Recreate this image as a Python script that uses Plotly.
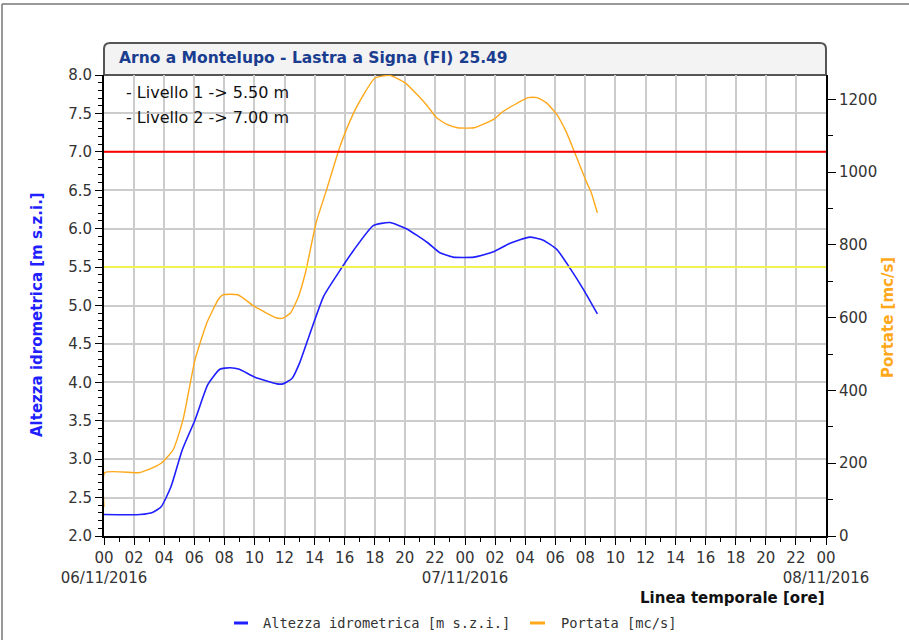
import plotly.graph_objects as go

# ---- data ----
level_hours = [0, 2.4, 3.26, 3.8, 4.45, 5.2, 6.05, 6.9, 7.7, 8.4, 9.0, 10.0, 11.5, 11.9,
               12.5, 13.0, 13.7, 14.6, 15.7, 16.6, 17.9, 19.0, 20.1, 21.5, 22.3, 23.2,
               24.6, 25.9, 27.0, 28.3, 29.2, 30.1, 31.0, 31.9, 32.8]
level_values = [2.28, 2.28, 2.31, 2.38, 2.64, 3.12, 3.51, 3.97, 4.17, 4.19, 4.17, 4.07, 3.98, 3.98,
                4.05, 4.25, 4.64, 5.12, 5.46, 5.72, 6.04, 6.08, 6.00, 5.82, 5.69, 5.63,
                5.63, 5.70, 5.81, 5.89, 5.85, 5.73, 5.48, 5.20, 4.89]

flow_hours = [0, 0.05, 2.3, 2.9, 3.8, 4.6, 5.25, 6.05, 6.83, 7.6, 7.9, 8.9, 10.0, 11.5, 11.9,
              12.4, 12.9, 13.4, 14.1, 14.8, 15.7, 16.6, 17.2, 18.0, 19.0, 20.0, 20.8, 21.5, 22.1,
              22.8, 23.5, 24.6, 25.9, 26.5, 27.4, 28.2, 28.8, 29.4, 30.1, 30.76, 31.3,
              32.1, 32.4, 32.8]
flow_values = [80, 174, 174, 182, 200, 237, 319, 484, 585, 650, 663, 663, 631, 599, 599,
               613, 655, 725, 861, 952, 1072, 1163, 1209, 1258, 1266, 1246, 1214, 1182, 1150,
               1131, 1122, 1122, 1145, 1166, 1188, 1205, 1205, 1191, 1159, 1108, 1053,
               971, 943, 888]

x_tick_vals = list(range(0, 49, 2))
x_tick_text = ["00<br>06/11/2016", "02", "04", "06", "08", "10", "12", "14", "16", "18", "20", "22",
               "00<br>07/11/2016", "02", "04", "06", "08", "10", "12", "14", "16", "18", "20", "22",
               "00<br>08/11/2016"]

livello_1 = 5.5
livello_2 = 7.0
title_text = "Arno a Montelupo - Lastra a Signa (FI) 25.49"
series_names = ["Altezza idrometrica [m s.z.i.]", "Portata [mc/s]"]

FONT = "DejaVu Sans"
TICK_COLOR = "#333333"
BLUE = "#1f1fff"
ORANGE = "#ffa81a"

fig = go.Figure()
fig.add_trace(go.Scatter(x=level_hours, y=level_values, mode="lines",
                         name=series_names[0], showlegend=False,
                         line=dict(color=BLUE, width=1.6, shape="spline", smoothing=0.5),
                         yaxis="y"))
fig.add_trace(go.Scatter(x=flow_hours, y=flow_values, mode="lines",
                         name=series_names[1], showlegend=False,
                         line=dict(color=ORANGE, width=1.4, shape="spline", smoothing=0.5),
                         yaxis="y2"))

W, H = 909, 640
L, R, T, B = 104, 826, 75, 536
def px(x):
    return (x - L) / (R - L)
def py(y):
    return (B - y) / (B - T)

fig.update_layout(
    width=W, height=H,
    margin=dict(l=L, r=W - R, t=T, b=H - B),
    paper_bgcolor="white", plot_bgcolor="white",
    font=dict(family=FONT, size=15, color=TICK_COLOR),
    showlegend=False,
    xaxis=dict(range=[0, 48], tickvals=x_tick_vals, ticktext=x_tick_text,
               showgrid=True, gridcolor="#cccccc", gridwidth=1.5,
               showline=True, linecolor="black", linewidth=2, mirror=False,
               ticks="outside", ticklen=7, tickcolor="black", tickangle=0,
               minor=dict(dtick=1, ticks="outside", ticklen=4, tickcolor="black", showgrid=False),
               tickfont=dict(size=15, color=TICK_COLOR), zeroline=False, fixedrange=True),
    yaxis=dict(range=[2.0, 8.0], dtick=0.5, tickformat=".1f",
               showgrid=True, gridcolor="#cccccc", gridwidth=1.5,
               showline=True, linecolor="black", linewidth=2,
               ticks="outside", ticklen=7, tickcolor="black",
               minor=dict(dtick=0.1, ticks="outside", ticklen=4, tickcolor="black", showgrid=False),
               tickfont=dict(size=15, color=TICK_COLOR), zeroline=False),
    yaxis2=dict(range=[0, 1267], dtick=200, overlaying="y", side="right",
                showgrid=False, showline=True, linecolor="black", linewidth=2,
                ticks="outside", ticklen=8, tickcolor="black",
                minor=dict(dtick=100, ticks="outside", ticklen=5, tickcolor="black", showgrid=False),
                tickfont=dict(size=15, color=TICK_COLOR), zeroline=False),
)

# rounded-top title box path (paper coords)
x0, x1 = 0.0, 1.0
yb, yt = 1.0, py(43)
rx, ry = 6 / (R - L), 6 / (B - T)
title_path = (f"M {x0},{yb} L {x0},{yt - ry} Q {x0},{yt} {x0 + rx},{yt} "
              f"L {x1 - rx},{yt} Q {x1},{yt} {x1},{yt - ry} L {x1},{yb} Z")

shapes = [
    # outer frame
    dict(type="line", xref="paper", yref="paper", x0=px(2), x1=px(909), y0=py(4), y1=py(4),
         line=dict(color="#777777", width=1.5)),
    dict(type="line", xref="paper", yref="paper", x0=px(2), x1=px(2), y0=py(4), y1=py(645),
         line=dict(color="#777777", width=1.5)),
    # title box
    dict(type="path", xref="paper", yref="paper", path=title_path,
         fillcolor="#f3f3f3", line=dict(color="#555555", width=2), layer="below"),
    # threshold lines
    dict(type="line", xref="paper", yref="y", x0=0, x1=1, y0=livello_2, y1=livello_2,
         line=dict(color="#ff0000", width=2)),
    dict(type="line", xref="paper", yref="y", x0=0, x1=1, y0=livello_1, y1=livello_1,
         line=dict(color="#ffff26", width=1.5)),
    # legend samples
    dict(type="line", xref="paper", yref="paper", x0=px(234), x1=px(248), y0=py(623), y1=py(623),
         line=dict(color=BLUE, width=3)),
    dict(type="line", xref="paper", yref="paper", x0=px(530), x1=px(545), y0=py(623), y1=py(623),
         line=dict(color=ORANGE, width=3)),
]
fig.update_layout(shapes=shapes)

annotations = [
    dict(text="<b>" + title_text + "</b>", xref="paper", yref="paper", x=px(117), y=py(58),
         xanchor="left", yanchor="middle", showarrow=False,
         font=dict(family=FONT, size=15.5, color="#1a3d8f")),
    dict(text="- Livello 1 -> 5.50 m", xref="paper", yref="paper", x=px(124), y=py(92),
         xanchor="left", yanchor="middle", showarrow=False,
         font=dict(family=FONT, size=16, color="#111111")),
    dict(text="- Livello 2 -> 7.00 m", xref="paper", yref="paper", x=px(124), y=py(117),
         xanchor="left", yanchor="middle", showarrow=False,
         font=dict(family=FONT, size=16, color="#111111")),
    dict(text="<b>Altezza idrometrica [m s.z.i.]</b>", xref="paper", yref="paper",
         x=px(37), y=py(315), xanchor="center", yanchor="middle", textangle=-90,
         showarrow=False, font=dict(family=FONT, size=15, color=BLUE)),
    dict(text="<b>Portate [mc/s]</b>", xref="paper", yref="paper",
         x=px(888), y=py(318), xanchor="center", yanchor="middle", textangle=-90,
         showarrow=False, font=dict(family=FONT, size=15, color=ORANGE)),
    dict(text="<b>Linea temporale [ore]</b>", xref="paper", yref="paper",
         x=px(827), y=py(598), xanchor="right", yanchor="middle",
         showarrow=False, font=dict(family=FONT, size=15, color="#111111")),
    # legend texts
    dict(text=series_names[0], xref="paper", yref="paper", x=px(261), y=py(623),
         xanchor="left", yanchor="middle", showarrow=False,
         font=dict(family="DejaVu Sans Mono", size=13.7, color="#333333")),
    dict(text=series_names[1], xref="paper", yref="paper", x=px(559), y=py(623),
         xanchor="left", yanchor="middle", showarrow=False,
         font=dict(family="DejaVu Sans Mono", size=13.7, color="#333333")),
]
fig.update_layout(annotations=annotations)

fig.write_html("out.html", config={"displayModeBar": False},
               post_script="document.body.style.margin='0';document.body.style.overflow='hidden';")
